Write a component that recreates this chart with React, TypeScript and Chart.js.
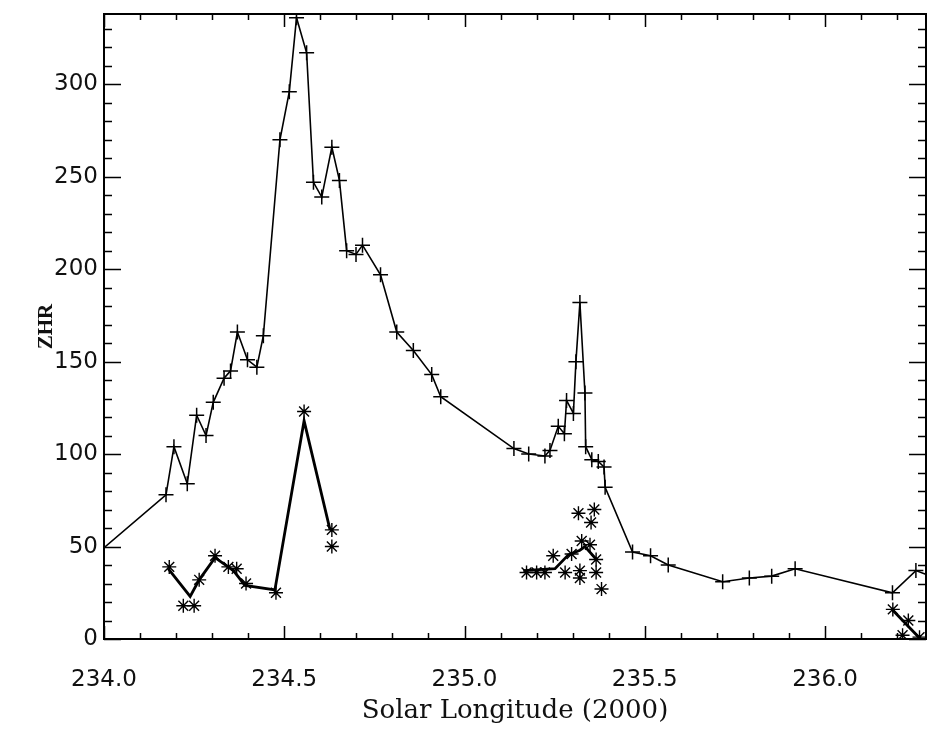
import React, { useEffect, useRef } from 'react';
import { Chart, registerables } from 'chart.js';

Chart.register(...registerables);

// ---- data ----
// "+" series (ZHR, line with + markers). First/last points lie just outside the axis range (clipped).
const plusX = [
  233.95, 234.172, 234.194, 234.231, 234.257, 234.283, 234.303, 234.333, 234.351, 234.37,
  234.398, 234.424, 234.442, 234.488, 234.514, 234.534, 234.562, 234.581, 234.604, 234.632,
  234.653, 234.673, 234.699, 234.717, 234.767, 234.812, 234.858, 234.909, 234.934, 235.137,
  235.178, 235.223, 235.237, 235.26, 235.277, 235.283, 235.302, 235.309, 235.32, 235.334,
  235.336, 235.353, 235.371, 235.387, 235.39, 235.466, 235.516, 235.565, 235.716, 235.79,
  235.852, 235.917, 236.187, 236.252, 236.32,
];
const plusY = [
  41, 78, 104, 84, 121, 110, 128, 141, 145, 166,
  151, 147, 164, 270, 296, 336, 317, 247, 239, 266,
  248, 210, 208, 213, 197, 166, 156, 143, 131, 103,
  100, 99, 102, 115, 111, 129, 122, 150, 182, 133,
  104, 97, 96, 93, 82, 47, 45, 40, 31, 33,
  34, 38, 25, 37, 32,
];

// "*" series: individual markers
const starX = [
  234.181, 234.22, 234.25, 234.264, 234.308, 234.345, 234.368, 234.394, 234.477, 234.555,
  234.632, 234.632,
  235.172, 235.2, 235.223, 235.246, 235.279, 235.297, 235.316, 235.32, 235.32, 235.325,
  235.348, 235.351, 235.36, 235.365, 235.365, 235.38,
  236.188, 236.231, 236.215, 236.262,
];
const starY = [
  39, 18, 18, 32, 45, 39, 38, 30, 25, 123,
  59, 50,
  36, 36, 36, 45, 36, 46, 68, 37, 33, 53,
  51, 63, 70, 43, 36, 27,
  16, 10, 2, 1,
];

// "*" series: thick connecting line (null = gap)
const starLineX = [
  234.178, 234.239, 234.264, 234.308, 234.359, 234.391, 234.474, 234.555, 234.627,
  234.9,
  235.163, 235.251, 235.288, 235.32, 235.334, 235.366,
  235.8,
  236.188, 236.262,
];
const starLineY: (number | null)[] = [
  38, 23, 32, 44, 37, 29, 26.5, 118, 59,
  null,
  37, 38, 45.5, 48, 50, 43,
  null,
  15.5, 0.5,
];

// axes
const X_MIN = 234.0;
const X_MAX = 236.28;
const Y_MIN = 0;
const Y_MAX = 338;
const X_MINOR_STEP = 0.1;
const Y_MINOR_STEP = 10;
const xTickValues = [234.0, 234.5, 235.0, 235.5, 236.0];
const xTickLabels = ['234.0', '234.5', '235.0', '235.5', '236.0'];
const yTickValues = [0, 50, 100, 150, 200, 250, 300];
const yTickLabels = ['0', '50', '100', '150', '200', '250', '300'];

const xTitle = 'Solar Longitude (2000)';
const yTitle = 'ZHR';

const toPoints = (xs: number[], ys: (number | null)[]) => xs.map((x, i) => ({ x, y: ys[i] }));

const framePlugin = {
  id: 'idlFrame',
  afterDatasetsDraw(chart: any) {
    const { ctx, chartArea, scales } = chart;
    const { left, right, top, bottom } = chartArea;
    const xs = scales.x;
    const ys = scales.y;
    ctx.save();
    ctx.strokeStyle = '#000';
    ctx.lineWidth = 2;
    ctx.strokeRect(left, top, right - left, bottom - top);
    ctx.lineWidth = 1.5;
    ctx.beginPath();
    const nx = Math.floor((X_MAX - X_MIN) / X_MINOR_STEP + 1e-6);
    for (let i = 0; i <= nx; i++) {
      const v = X_MIN + i * X_MINOR_STEP;
      const px = Math.round(xs.getPixelForValue(v)) + 0.5;
      const major = xTickValues.some((t) => Math.abs(t - v) < 1e-6);
      const len = major ? 13 : 6;
      ctx.moveTo(px, bottom);
      ctx.lineTo(px, bottom - len);
      ctx.moveTo(px, top);
      ctx.lineTo(px, top + len);
    }
    const ny = Math.floor((Y_MAX - Y_MIN) / Y_MINOR_STEP + 1e-6);
    for (let i = 0; i <= ny; i++) {
      const v = Y_MIN + i * Y_MINOR_STEP;
      const py = Math.round(ys.getPixelForValue(v)) + 0.5;
      const major = yTickValues.some((t) => Math.abs(t - v) < 1e-6);
      const len = major ? 17 : 8;
      ctx.moveTo(left, py);
      ctx.lineTo(left + len, py);
      ctx.moveTo(right, py);
      ctx.lineTo(right - len, py);
    }
    ctx.stroke();
    ctx.restore();
  },
};

export default function App() {
  const canvasRef = useRef<HTMLCanvasElement | null>(null);

  useEffect(() => {
    const canvas = canvasRef.current;
    if (!canvas) return;
    const chart = new Chart(canvas, {
      type: 'line',
      data: {
        datasets: [
          {
            label: 'plus',
            data: toPoints(plusX, plusY),
            borderColor: '#000',
            borderWidth: 1.6,
            pointStyle: 'cross',
            pointRadius: 7.5,
            pointBorderWidth: 1.5,
            pointBorderColor: '#000',
            pointBackgroundColor: '#000',
            tension: 0,
            fill: false,
          },
          {
            label: 'starLine',
            data: toPoints(starLineX, starLineY),
            borderColor: '#000',
            borderWidth: 2.8,
            pointRadius: 0,
            spanGaps: false,
            tension: 0,
            fill: false,
          },
          {
            label: 'stars',
            data: toPoints(starX, starY),
            showLine: false,
            borderColor: '#000',
            pointStyle: 'star',
            pointRadius: 7,
            pointBorderWidth: 1.4,
            pointBorderColor: '#000',
            pointBackgroundColor: '#000',
          },
        ],
      },
      options: {
        responsive: false,
        animation: false,
        devicePixelRatio: 1,
        events: [],
        layout: { autoPadding: false, padding: { top: 14, right: 2, left: 0, bottom: 0 } },
        plugins: {
          legend: { display: false },
          tooltip: { enabled: false },
        },
        scales: {
          x: {
            type: 'linear',
            min: X_MIN,
            max: X_MAX,
            afterBuildTicks: (s: any) => {
              s.ticks = xTickValues.map((v) => ({ value: v }));
            },
            afterFit: (s: any) => {
              s.height = 91;
              s.paddingLeft = 0;
              s.paddingRight = 0;
              s.paddingTop = 0;
              s.paddingBottom = 0;
            },
            ticks: {
              callback: (_v: any, i: number) => xTickLabels[i],
              font: { family: 'DejaVu Sans', size: 23 },
              color: '#111',
              padding: 27,
              maxRotation: 0,
              autoSkip: false,
            },
            grid: { display: false, drawTicks: false, tickLength: 0 },
            border: { display: false },
            title: {
              display: true,
              text: xTitle,
              font: { family: 'DejaVu Serif', size: 26 },
              color: '#111',
              padding: { top: 0, bottom: 3 },
            },
          },
          y: {
            type: 'linear',
            min: Y_MIN,
            max: Y_MAX,
            afterBuildTicks: (s: any) => {
              s.ticks = yTickValues.map((v) => ({ value: v }));
            },
            afterFit: (s: any) => {
              s.width = 104;
              s.paddingLeft = 0;
              s.paddingRight = 0;
              s.paddingTop = 0;
              s.paddingBottom = 0;
            },
            ticks: {
              callback: (_v: any, i: number) => yTickLabels[i],
              font: { family: 'DejaVu Sans', size: 23 },
              color: '#111',
              padding: 6,
              autoSkip: false,
            },
            grid: { display: false, drawTicks: false, tickLength: 0 },
            border: { display: false },
            title: {
              display: true,
              text: yTitle,
              font: { family: 'Liberation Serif', size: 21, weight: 'bold' },
              color: '#111',
              padding: { top: 34, bottom: 0 },
            },
          },
        },
      },
      plugins: [framePlugin],
    } as any);
    return () => chart.destroy();
  }, []);

  return (
    <div style={{ position: 'absolute', left: 0, top: 0, width: 928, height: 730, background: '#fff' }}>
      <canvas ref={canvasRef} width={928} height={730} style={{ display: 'block', width: 928, height: 730 }} />
    </div>
  );
}
